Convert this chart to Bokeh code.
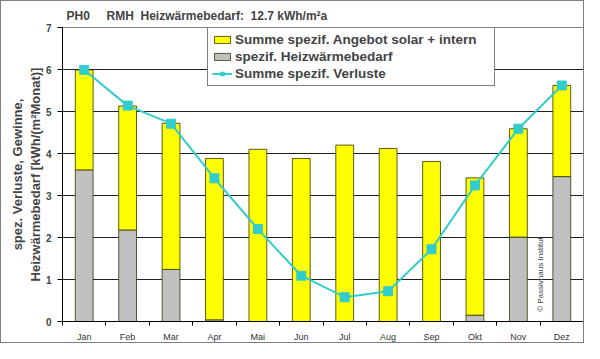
from bokeh.plotting import figure
from bokeh.models import (ColumnDataSource, FixedTicker, Legend, LegendItem, Label, Range1d)
from bokeh.embed import file_html
from bokeh.resources import INLINE

months = ["Jan", "Feb", "Mar", "Apr", "Mai", "Jun", "Jul", "Aug", "Sep", "Okt", "Nov", "Dez"]
heizwaermebedarf = [3.61, 2.18, 1.24, 0.04, 0.0, 0.0, 0.0, 0.0, 0.0, 0.15, 2.01, 3.45]
angebot_solar_intern = [2.38, 2.95, 3.48, 3.84, 4.10, 3.88, 4.20, 4.12, 3.81, 3.27, 2.58, 2.17]
verluste = [5.99, 5.14, 4.71, 3.41, 2.20, 1.09, 0.58, 0.72, 1.72, 3.24, 4.59, 5.62]
y_ticks = [0, 1, 2, 3, 4, 5, 6, 7]

xpos = list(range(1, len(months) + 1))
src = ColumnDataSource(dict(x=xpos, heiz=heizwaermebedarf, angebot=angebot_solar_intern, verl=verluste))

FONT = "Liberation Sans"
NB = "\u00a0"

p = figure(width=584, height=343, output_backend="svg", toolbar_location=None,
           x_range=Range1d(0.5, 12.5), y_range=Range1d(0, 7),
           min_border_left=61, min_border_right=2, min_border_top=24, min_border_bottom=19,
           background_fill_color="white", border_fill_color="white")
p.styles = {"border": "1px solid #808080", "box-sizing": "border-box"}

p.title.text = "PH0" + NB * 5 + "RMH" + NB * 2 + "Heizwärmebedarf:" + NB * 2 + "12.7 kWh/m²a"
p.title.text_font = FONT
p.title.text_font_size = "12px"
p.title.text_font_style = "bold"
p.title.offset = 4
p.title.standoff = 10

p.outline_line_color = "#808080"
p.outline_line_width = 1

bars = p.vbar_stack(["heiz", "angebot"], x="x", width=0.41, source=src,
                    color=["#C0C0C0", "#FFFF00"], line_color="#333300", line_width=0.8)
ln = p.line("x", "verl", source=src, line_color="#33CCCC", line_width=2)
sc = p.scatter("x", "verl", source=src, marker="square", size=9,
               fill_color="#33CCCC", line_color="#33CCCC")

# axes
p.xgrid.visible = False
p.ygrid.ticker = FixedTicker(ticks=y_ticks)
p.ygrid.grid_line_color = "#202020"
p.ygrid.grid_line_width = 1

p.yaxis.ticker = FixedTicker(ticks=y_ticks)
p.yaxis.axis_line_color = "black"
p.yaxis.major_tick_out = 5
p.yaxis.major_tick_in = 0
p.yaxis.minor_tick_line_color = None
p.yaxis.major_label_text_font = FONT
p.yaxis.major_label_text_font_style = "bold"
p.yaxis.major_label_text_font_size = "10px"
p.yaxis.major_label_standoff = 6
p.yaxis.axis_label = "spez. Verluste, Gewinne,\nHeizwärmebedarf [kWh/(m²Monat)]"
p.yaxis.axis_label_text_font = FONT
p.yaxis.axis_label_text_font_style = "bold"
p.yaxis.axis_label_text_font_size = "13px"
p.yaxis.axis_label_standoff = 0

p.xaxis.ticker = FixedTicker(ticks=xpos, minor_ticks=[i + 0.5 for i in range(0, 13)])
p.xaxis.major_label_overrides = {i: m for i, m in zip(xpos, months)}
p.xaxis.major_tick_line_color = None
p.xaxis.major_tick_out = 0
p.xaxis.major_tick_in = 0
p.xaxis.minor_tick_line_color = "black"
p.xaxis.minor_tick_out = 4
p.xaxis.minor_tick_in = 0
p.xaxis.axis_line_color = "black"
p.xaxis.major_label_text_font = FONT
p.xaxis.major_label_text_font_size = "9px"
p.xaxis.major_label_text_color = "#333333"
p.xaxis.major_label_standoff = 6

legend = Legend(items=[
    LegendItem(label="Summe spezif. Angebot solar + intern", renderers=[bars[1]]),
    LegendItem(label="spezif. Heizwärmebedarf", renderers=[bars[0]]),
    LegendItem(label="Summe spezif. Verluste", renderers=[ln, sc]),
], location=(145, 235))
legend.label_text_font = FONT
legend.label_text_font_style = "bold"
legend.label_text_font_size = "13.5px"
legend.label_standoff = 3
legend.label_width = 255
legend.glyph_width = 20
legend.glyph_height = 9
legend.label_height = 15
legend.spacing = 2
legend.padding = 4
legend.margin = 0
legend.border_line_color = "black"
legend.border_line_width = 1
legend.background_fill_color = "white"
legend.background_fill_alpha = 1
p.add_layout(legend, "center")

copy = Label(x=11.5, y=0.23, text="© Passivhaus Institut", angle=90, angle_units="deg",
             text_font=FONT, text_font_size="8px", text_color="#404040",
             text_align="left", text_baseline="middle")
p.add_layout(copy)

open("out.html", "w").write(file_html(p, INLINE))
